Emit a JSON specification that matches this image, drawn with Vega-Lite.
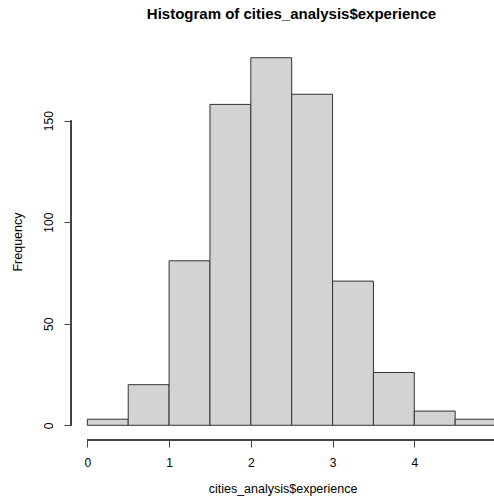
{
  "$schema": "https://vega.github.io/schema/vega-lite/v6.json",
  "width": 423,
  "height": 397,
  "autosize": {"type": "none"},
  "padding": {"left": 71, "top": 43, "right": 0, "bottom": 62},
  "background": "white",
  "title": {
    "text": "Histogram of cities_analysis$experience",
    "font": "Liberation Sans",
    "fontSize": 15,
    "fontWeight": "bold",
    "color": "#000000",
    "anchor": "middle",
    "dx": 9,
    "offset": 21
  },
  "config": {
    "view": {"stroke": null},
    "axis": {
      "labelFont": "Liberation Sans",
      "titleFont": "Liberation Sans",
      "labelFontSize": 12,
      "titleFontSize": 12.5,
      "titleFontWeight": "normal",
      "labelColor": "#000000",
      "titleColor": "#000000",
      "tickColor": "#444444",
      "tickSize": 7,
      "domain": false,
      "grid": false
    }
  },
  "data": {
    "values": [
      {"bin_start": 0.0, "bin_end": 0.5, "count": 3},
      {"bin_start": 0.5, "bin_end": 1.0, "count": 20},
      {"bin_start": 1.0, "bin_end": 1.5, "count": 81},
      {"bin_start": 1.5, "bin_end": 2.0, "count": 158},
      {"bin_start": 2.0, "bin_end": 2.5, "count": 181},
      {"bin_start": 2.5, "bin_end": 3.0, "count": 163},
      {"bin_start": 3.0, "bin_end": 3.5, "count": 71},
      {"bin_start": 3.5, "bin_end": 4.0, "count": 26},
      {"bin_start": 4.0, "bin_end": 4.5, "count": 7},
      {"bin_start": 4.5, "bin_end": 5.0, "count": 3}
    ]
  },
  "layer": [
    {
      "mark": {"type": "rect", "fill": "#d3d3d3", "stroke": "#333333", "strokeWidth": 1, "clip": true},
      "encoding": {
        "x": {
          "field": "bin_start",
          "type": "quantitative",
          "scale": {"domain": [-0.2, 4.975], "nice": false, "zero": false},
          "axis": {
            "values": [0, 1, 2, 3, 4, 5],
            "format": "d",
            "title": "cities_analysis$experience",
            "labelPadding": 10,
            "titlePadding": 14,
            "labelFlush": false
          }
        },
        "x2": {"field": "bin_end"},
        "y": {
          "field": "count",
          "type": "quantitative",
          "scale": {"domain": [-7.24, 188.24], "nice": false, "zero": false},
          "axis": {
            "values": [0, 50, 100, 150],
            "format": "d",
            "title": "Frequency",
            "labelAngle": -90,
            "labelAlign": "center",
            "labelBaseline": "bottom",
            "labelPadding": 9,
            "titlePadding": 18,
            "labelFlush": false
          }
        },
        "y2": {"datum": 0}
      }
    },
    {
      "mark": {"type": "rule", "color": "#444444", "strokeWidth": 1},
      "encoding": {
        "x": {"datum": -0.2},
        "y": {"datum": 0},
        "y2": {"datum": 150}
      }
    },
    {
      "mark": {"type": "rule", "color": "#444444", "strokeWidth": 1},
      "encoding": {
        "x": {"datum": 0},
        "x2": {"datum": 5},
        "y": {"datum": -7.24}
      }
    }
  ]
}
